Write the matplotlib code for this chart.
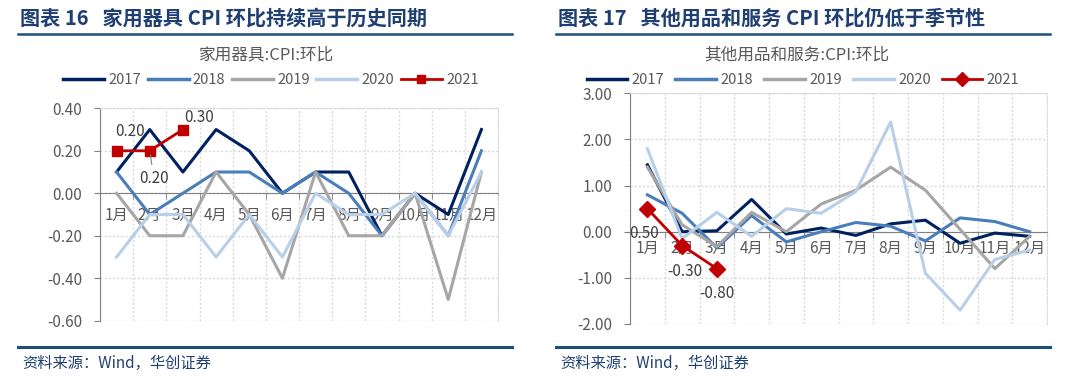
import matplotlib
matplotlib.use('Agg')
import matplotlib.pyplot as plt
from matplotlib.lines import Line2D
from matplotlib.ticker import FixedLocator, FuncFormatter

plt.rcParams['font.family'] = ['Noto Sans CJK SC', 'DejaVu Sans']

months = ['1月', '2月', '3月', '4月', '5月', '6月', '7月', '8月', '9月', '10月', '11月', '12月']
years = ['2017', '2018', '2019', '2020', '2021']
colors = ['#002060', '#4A7EBB', '#A6A6A6', '#B8CFE8', '#C00000']

# 家用器具:CPI:环比
jy_2017 = [0.10, 0.30, 0.10, 0.30, 0.20, 0.00, 0.10, 0.10, -0.20, 0.00, -0.10, 0.30]
jy_2018 = [0.10, -0.10, 0.00, 0.10, 0.10, 0.00, 0.10, 0.00, -0.20, 0.00, -0.20, 0.20]
jy_2019 = [0.00, -0.20, -0.20, 0.10, -0.10, -0.40, 0.10, -0.20, -0.20, 0.00, -0.50, 0.10]
jy_2020 = [-0.30, -0.10, -0.10, -0.30, -0.10, -0.30, 0.00, -0.10, -0.10, 0.00, -0.20, 0.10]
jy_2021 = [0.20, 0.20, 0.30]

# 其他用品和服务:CPI:环比
qt_2017 = [1.45, 0.00, 0.02, 0.70, -0.05, 0.08, -0.08, 0.17, 0.25, -0.25, -0.03, -0.10]
qt_2018 = [0.80, 0.40, -0.35, 0.35, -0.22, 0.00, 0.20, 0.12, -0.20, 0.30, 0.22, 0.00]
qt_2019 = [1.40, 0.15, -0.32, 0.42, 0.00, 0.60, 0.90, 1.40, 0.90, 0.05, -0.80, -0.10]
qt_2020 = [1.80, -0.15, 0.42, -0.10, 0.50, 0.40, 0.87, 2.38, -0.90, -1.70, -0.60, -0.40]
qt_2021 = [0.50, -0.30, -0.80]

W, H = 1080, 382
fig = plt.figure(figsize=(W / 100, H / 100), dpi=100)

navy = '#1F3F73'
gray_txt = '#595959'


def px_axes(x0, y_top, x1, y_bot):
    return fig.add_axes([x0 / W, 1 - y_bot / H, (x1 - x0) / W, (y_bot - y_top) / H])


def header(x0, x1, title, source):
    fig.text((x0 + 2) / W, 1 - 18 / H, title,
             fontsize=14.5, fontweight='bold', color=navy, va='center', ha='left')
    fig.add_artist(Line2D([x0 / W, x1 / W], [1 - 34 / H, 1 - 34 / H], color='#1F4E79', lw=1.8))
    fig.add_artist(Line2D([x0 / W, x1 / W], [1 - 347 / H, 1 - 347 / H], color='#1F4E79', lw=2.2))
    fig.text((x0 + 4) / W, 1 - 363 / H, source, fontsize=11, color=navy,
             style='italic', va='center', ha='left')


def draw_panel(ax, series, yticks, sub, sub_x, leg_x, marker, labels, label_offsets,
               tick_pad, colsp):
    x = list(range(12))
    for i, (yr, vals) in enumerate(zip(years, series)):
        if yr == '2021':
            ax.plot(x[:len(vals)], vals, color=colors[i], lw=2, marker=marker,
                    ms=7 if marker == 's' else 8, zorder=5)
        else:
            ax.plot(x[:len(vals)], vals, color=colors[i], lw=2.2, zorder=3)
    ax.set_xlim(-0.5, 11.5)
    ax.set_ylim(yticks[0], yticks[-1])
    ax.yaxis.set_major_locator(FixedLocator(yticks))
    ax.yaxis.set_major_formatter(FuncFormatter(lambda v, p: '{:.2f}'.format(v)))
    ax.set_xticks(x)
    ax.set_xticklabels(months)
    ax.set_xticks([b + 0.5 for b in range(-1, 12)], minor=True)
    ax.tick_params(axis='x', which='major', length=0, pad=tick_pad, labelsize=11, labelcolor=gray_txt)
    ax.tick_params(axis='x', which='minor', length=4, color='#808080', direction='out')
    ax.tick_params(axis='y', length=4, pad=9, color='#808080', labelsize=11, labelcolor=gray_txt)
    ax.grid(True, axis='y', which='major', color='#D9D9D9', ls=(0, (1.5, 1.5)), lw=1)
    ax.grid(True, axis='x', which='minor', color='#D9D9D9', ls=(0, (1.5, 1.5)), lw=1)
    ax.spines['bottom'].set_position(('data', 0))
    ax.spines['bottom'].set_color('#808080')
    ax.spines['left'].set_color('#808080')
    for s in ['top', 'right']:
        ax.spines[s].set_color('#D9D9D9')
        ax.spines[s].set_linestyle((0, (1.5, 1.5)))
    ax.set_axisbelow(True)

    # 2021 数据标签
    for xi, (v, off) in enumerate(zip(series[-1], label_offsets)):
        arrow = None
        if off[2]:
            arrow = dict(arrowstyle='-', color='#808080', lw=0.8, shrinkA=2, shrinkB=3)
        ax.annotate(labels[xi], (xi, v), xytext=(off[0], off[1]), textcoords='offset points',
                    ha='center', va='center', fontsize=11, color='#404040',
                    arrowprops=arrow, zorder=6)

    fig.text(sub_x / W, 1 - 55 / H, sub, fontsize=12, color=gray_txt, ha='center', va='center')
    handles = []
    for i, yr in enumerate(years):
        if yr == '2021':
            handles.append(Line2D([], [], color=colors[i], lw=2, marker=marker,
                                  ms=6 if marker == 's' else 7))
        else:
            handles.append(Line2D([], [], color=colors[i], lw=2.5))
    fig.legend(handles, years, ncol=5, loc='center', bbox_to_anchor=(leg_x / W, 1 - 80 / H),
               frameon=False, fontsize=10.5, handlelength=2.8, handletextpad=0.3,
               columnspacing=colsp, labelcolor=gray_txt, borderaxespad=0, borderpad=0)


header(18, 512, '图表 16   家用器具 CPI 环比持续高于历史同期', '资料来源：Wind，华创证券')
header(556, 1050, '图表 17   其他用品和服务 CPI 环比仍低于季节性', '资料来源：Wind，华创证券')

ax1 = px_axes(100, 108.3, 498, 320.7)
draw_panel(ax1, [jy_2017, jy_2018, jy_2019, jy_2020, jy_2021],
           [-0.6, -0.4, -0.2, 0.0, 0.2, 0.4], '家用器具:CPI:环比', 267, 271, 's',
           ['0.20', '0.20', '0.30'],
           [(10, 14, False), (3, -20, True), (12, 9, False)], 10, 0.45)

ax2 = px_axes(630, 93.3, 1047, 324)
draw_panel(ax2, [qt_2017, qt_2018, qt_2019, qt_2020, qt_2021],
           [-2, -1, 0, 1, 2, 3], '其他用品和服务:CPI:环比', 797, 803, 'D',
           ['0.50', '-0.30', '-0.80'],
           [(-2, -18, False), (2, -19, False), (0, -18, False)], 6, 0.75)

fig.savefig('out.png', dpi=100)
